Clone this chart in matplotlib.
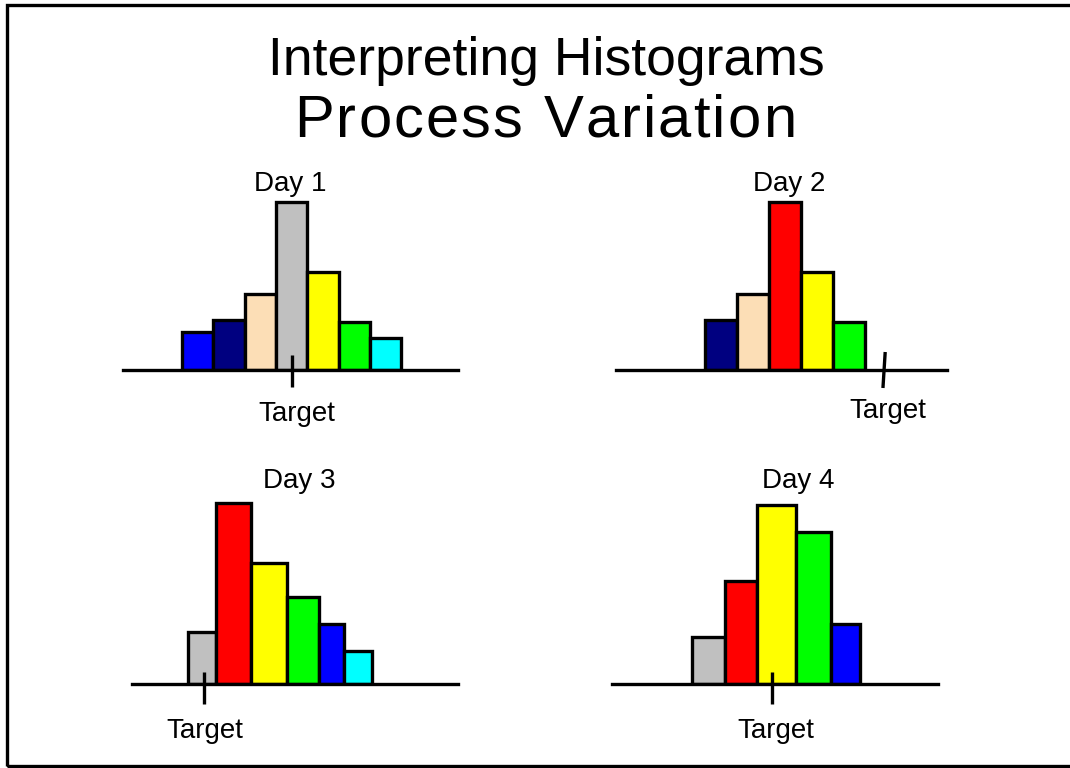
import matplotlib
matplotlib.use("Agg")
import matplotlib.pyplot as plt
from matplotlib.patches import Rectangle
from matplotlib import font_manager, ft2font
import numpy as np

plt.rcParams['font.family'] = ['Liberation Sans', 'DejaVu Sans']

# data: bar heights per day, bin widths, bar colours, target position (bin units from first bin)
days = ["Day 1", "Day 2", "Day 3", "Day 4"]
day1_counts = [3.8, 5.0, 7.6, 16.8, 9.8, 4.8, 3.2]
day2_counts = [5.0, 7.6, 16.8, 9.8, 4.8]
day3_counts = [5.2, 18.1, 12.1, 8.7, 6.0, 3.3]
day4_counts = [4.7, 10.3, 17.9, 15.2, 6.0]
day1_widths = [1, 1, 1, 1, 1, 1, 1]
day2_widths = [1, 1, 1, 1, 1]
day3_widths = [0.92, 1.14, 1.16, 1.03, 0.84, 0.91]
day4_widths = [0.99, 0.96, 1.14, 1.04, 0.87]
day1_colors = ["#0000FF", "#000080", "#FCDEB6", "#C0C0C0", "#FFFF00", "#00FF00", "#00FFFF"]
day2_colors = ["#000080", "#FCDEB6", "#FF0000", "#FFFF00", "#00FF00"]
day3_colors = ["#C0C0C0", "#FF0000", "#FFFF00", "#00FF00", "#0000FF", "#00FFFF"]
day4_colors = ["#C0C0C0", "#FF0000", "#FFFF00", "#00FF00", "#0000FF"]
targets = [3.52, 5.58, 0.54, 2.39]

all_counts = [day1_counts, day2_counts, day3_counts, day4_counts]
all_widths = [day1_widths, day2_widths, day3_widths, day4_widths]
all_colors = [day1_colors, day2_colors, day3_colors, day4_colors]

W, H = 1070, 768
fig = plt.figure(figsize=(W / 100, H / 100), dpi=100)

# layout in pixels: (left, right, baseline y), xlim, title pos, tick (top, bottom, tilt), label offset
layout = [
    dict(px=(123, 458, 370), xlim=(-1.87, 8.80), title=(290, 191), tick=(1.5, -1.65, 0.0), lab=(5, -51)),
    dict(px=(616, 947, 370), xlim=(-2.77, 7.54), title=(789, 191), tick=(1.8, -1.8, 0.07), lab=(4, -48)),
    dict(px=(132, 458, 684), xlim=(-1.81, 8.78), title=(299, 488), tick=(1.25, -2.0, 0.0), lab=(0, -54)),
    dict(px=(612, 938, 684), xlim=(-2.36, 7.31), title=(798, 488), tick=(1.25, -2.0, 0.0), lab=(4, -54)),
]

lw = 2.4
for i in range(4):
    L = layout[i]
    left, right, base = L["px"]
    ax = fig.add_axes([left / W, (H - base) / H, (right - left) / W, 200 / H])
    counts = all_counts[i]
    widths = np.array(all_widths[i], dtype=float)
    edges = np.concatenate([[0], np.cumsum(widths)[:-1]])
    ax.bar(edges, counts, width=widths, align="edge",
           color=all_colors[i], edgecolor="black", linewidth=lw, zorder=2)
    ax.set_xlim(*L["xlim"])
    ax.set_ylim(0, 20)
    for s in ["top", "left", "right"]:
        ax.spines[s].set_visible(False)
    ax.spines["bottom"].set_linewidth(lw)
    ax.spines["bottom"].set_zorder(3)
    ax.set_xticks([])
    ax.set_yticks([])
    ax.patch.set_visible(False)

    top, bot, tilt = L["tick"]
    t = targets[i]
    ax.plot([t + tilt / 2, t - tilt / 2], [top, bot], color="black", lw=lw,
            solid_capstyle="butt", clip_on=False, zorder=4)
    ax.annotate("Target", xy=(t, 0), xytext=L["lab"], textcoords="offset pixels",
                ha="center", va="baseline", fontsize=20)

    tx, ty = L["title"]
    fig.text(tx / W, (H - ty) / H, days[i], ha="center", va="baseline", fontsize=20)

fig.text(546 / W, (H - 75) / H, "Interpreting Histograms", ha="center", va="baseline", fontsize=38.5)

# second title line is letter-spaced: place glyphs one by one
sub = "Process Variation"
sub_size = 43
spacing = 2.1
fpath = font_manager.findfont(font_manager.FontProperties(family="Liberation Sans"))
ft = ft2font.FT2Font(fpath)
ft.set_size(sub_size, 100)
adv = [ft.load_char(ord(c)).linearHoriAdvance / 65536 for c in sub]
total = sum(adv) + spacing * (len(sub) - 1)
x = 545 - total / 2
for c, a in zip(sub, adv):
    fig.text(x / W, (H - 137) / H, c, ha="left", va="baseline", fontsize=sub_size)
    x += a + spacing

# frame around the figure (right edge runs off the image)
fig.patches.append(Rectangle((7 / W, 2 / H), 1.2, (766 - 5) / H, transform=fig.transFigure,
                             fill=False, edgecolor="black", linewidth=lw, clip_on=False))

fig.savefig("out.png", dpi=100)
